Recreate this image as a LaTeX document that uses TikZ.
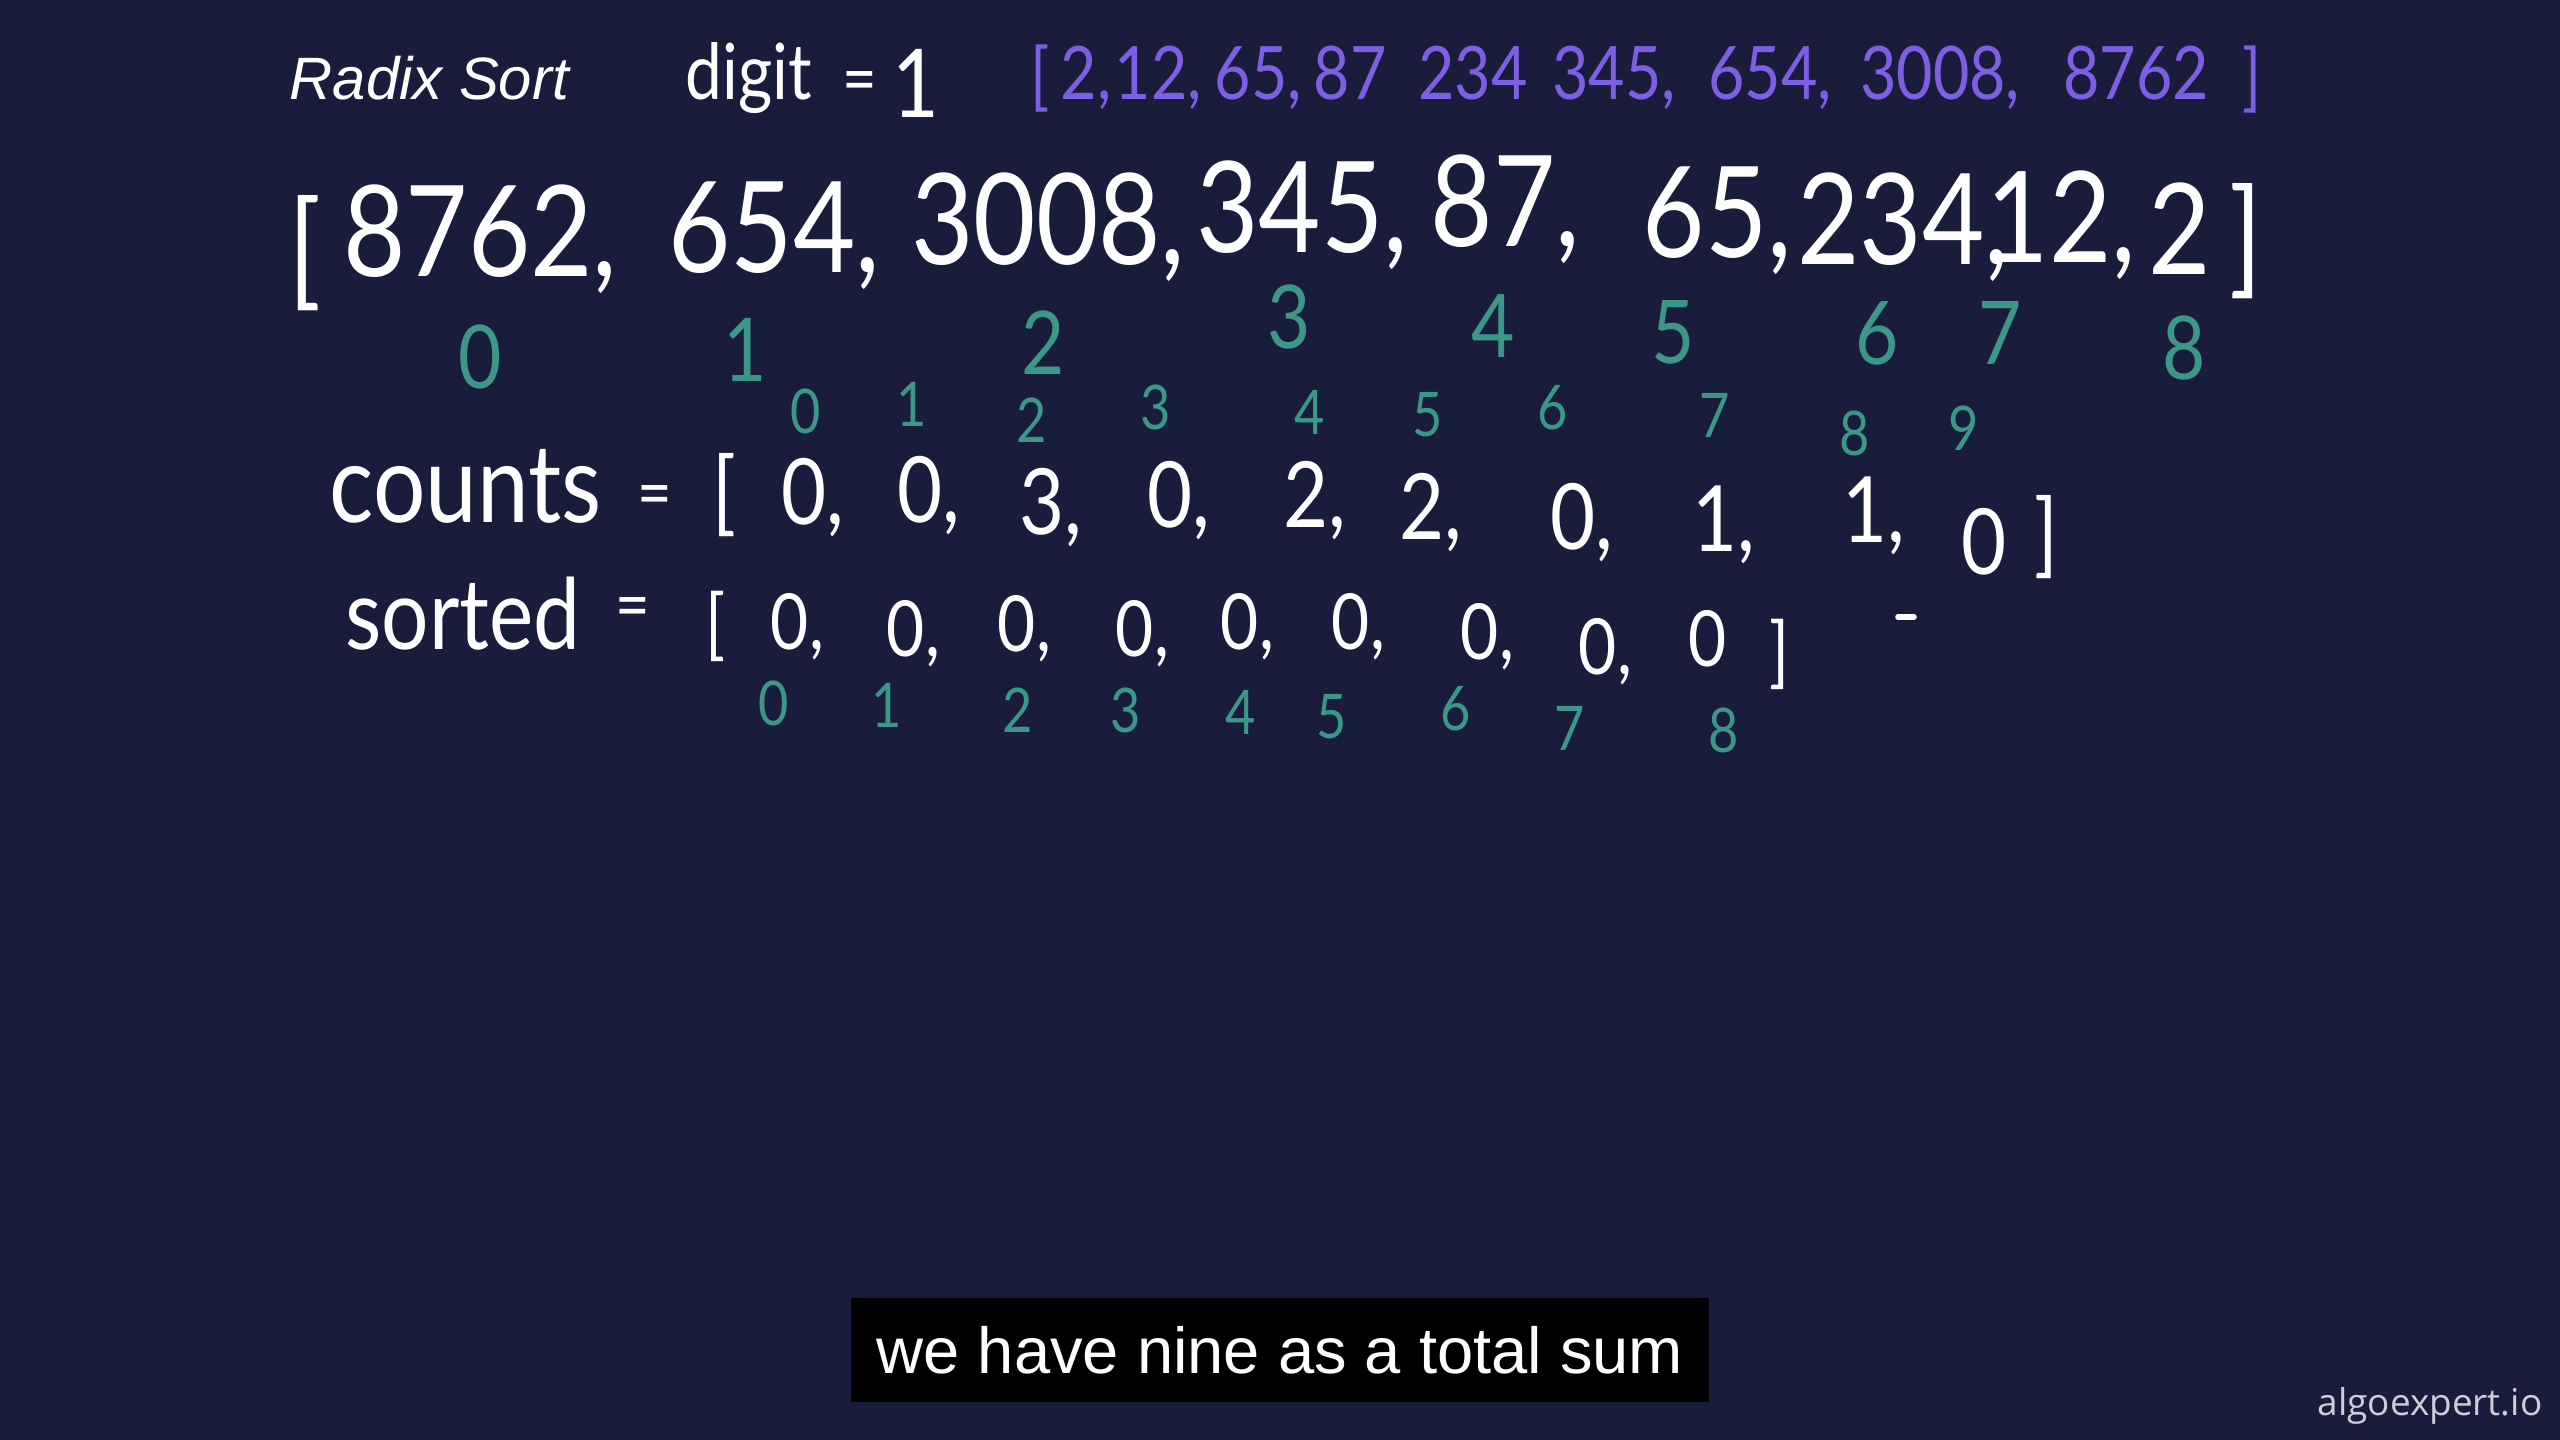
\documentclass[tikz,border=0pt]{standalone}
\usepackage{fontspec}
\setmainfont{Lato}[FakeStretch=0.85]
\newfontfamily\titlefont{Liberation Sans}
\newfontfamily\brandfont{Open Sans}

\definecolor{board}{RGB}{25,29,59}
\definecolor{chalkgreen}{RGB}{60,152,134}
\definecolor{chalkpurple}{RGB}{125,95,228}
\definecolor{brandgray}{RGB}{205,207,215}

\begin{document}
\begin{tikzpicture}[
    x=0.01cm, y=-0.01cm,
    chalk/.style = { text=white, inner sep=0pt },
    arr/.style = { chalk, anchor=base, font=\fontsize{36}{40}\selectfont },
    cnt/.style = { chalk, anchor=base, font=\fontsize{26}{30}\selectfont },
    srt/.style = { chalk, anchor=base, font=\fontsize{22}{26}\selectfont },
    word/.style = { chalk, anchor=base west, font=\fontsize{31}{34}\selectfont },
    eq/.style = { chalk, font=\fontsize{20}{24}\selectfont },
    idx/.style = { text=chalkgreen, inner sep=0pt, font=\fontsize{25}{28}\selectfont },
    smallidx/.style = { idx, font=\fontsize{17.5}{20}\selectfont },
    done/.style = { text=chalkpurple, inner sep=0pt, anchor=base, font=\fontsize{21}{24}\selectfont },
    ]

    % board
    \fill[board] (0,0) rectangle (2560,1440);

    % heading
    \node[anchor=base west, text=white, inner sep=0pt, font=\titlefont\itshape\fontsize{17}{20}\selectfont] (title) at (289,100) {Radix Sort};
    \node[chalk, anchor=base west, font=\fontsize{22}{26}\selectfont] (digit) at (685,100) {digit};
    \node[eq] (digiteq) at (860,88) {=};
    \node[chalk, anchor=base, font=\fontsize{27}{30}\selectfont] (digitval) at (916,118) {1};

    % result of this pass
    \node[done] (pl) at (1040,102) {[};
    \node[done] (p1) at (1079,100) {2\rlap{,}};
    \node[done] (p2) at (1151,100) {12\rlap{,}};
    \node[done] (p3) at (1251,100) {65\rlap{,}};
    \node[done] (p4) at (1350,100) {87};
    \node[done] (p5) at (1473,100) {234};
    \node[done] (p6) at (1607,100) {345\rlap{,}};
    \node[done] (p7) at (1763,100) {654\rlap{,}};
    \node[done] (p8) at (1933,100) {3008\rlap{,}};
    \node[done] (p9) at (2136,100) {8762};
    \node[done] (pr) at (2252,103) {]};

    % input array
    \node[arr] (al) at (305,293) {[};
    \node[arr] (a0) at (468,277) {8762\rlap{,}};
    \node[arr] (a1) at (762,273) {654\rlap{,}};
    \node[arr] (a2) at (1036,265) {3008\rlap{,}};
    \node[arr] (a3) at (1290,253) {345\rlap{,}};
    \node[arr] (a4) at (1493,247) {87\rlap{,}};
    \node[arr] (a5) at (1705,258) {65\rlap{,}};
    \node[arr] (a6) at (1891,265) {234\rlap{,}};
    \node[arr] (a7) at (2049,263) {12\rlap{,}};
    \node[arr] (a8) at (2180,275) {2};
    \node[arr] (ar) at (2246,281) {]};

    % array indices
    \node[idx] (ai0) at (480,357) {0};
    \node[idx] (ai1) at (745,350) {1};
    \node[idx] (ai2) at (1043,343) {2};
    \node[idx] (ai3) at (1289,317) {3};
    \node[idx] (ai4) at (1493,326) {4};
    \node[idx] (ai5) at (1673,332) {5};
    \node[idx] (ai6) at (1877,333) {6};
    \node[idx] (ai7) at (2000,333) {7};
    \node[idx] (ai8) at (2184,348) {8};

    % counts
    \node[word] (counts) at (329,523) {counts};
    \node[eq] (countseq) at (655,502) {=};
    \node[cnt] (cl) at (724,524) {[};
    \node[cnt] (c0) at (804,525) {0\rlap{,}};
    \node[cnt] (c1) at (920,523) {0\rlap{,}};
    \node[cnt] (c2) at (1042,535) {3\rlap{,}};
    \node[cnt] (c3) at (1170,528) {0\rlap{,}};
    \node[cnt] (c4) at (1306,528) {2\rlap{,}};
    \node[cnt] (c5) at (1422,540) {2\rlap{,}};
    \node[cnt] (c6) at (1573,550) {0\rlap{,}};
    \node[cnt] (c7) at (1715,552) {1\rlap{,}};
    \node[cnt] (c8) at (1865,543) {1\rlap{,}};
    \node[cnt] (c9) at (1984,575) {0};
    \node[cnt] (cr) at (2046,566) {]};

    % counts indices
    \node[smallidx] (ci0) at (806,411) {0};
    \node[smallidx] (ci1) at (912,404) {1};
    \node[smallidx] (ci2) at (1032,420) {2};
    \node[smallidx] (ci3) at (1156,407) {3};
    \node[smallidx] (ci4) at (1310,412) {4};
    \node[smallidx] (ci5) at (1428,415) {5};
    \node[smallidx] (ci6) at (1553,408) {6};
    \node[smallidx] (ci7) at (1715,415) {7};
    \node[smallidx] (ci8) at (1855,433) {8};
    \node[smallidx] (ci9) at (1964,428) {9};

    % sorted
    \node[word, font=\fontsize{28}{31}\selectfont] (sorted) at (345,650) {sorted};
    \node[eq] (sortedeq) at (633,614) {=};
    \node[srt] (sl) at (716,651) {[};
    \node[srt] (s0) at (790,650) {0\rlap{,}};
    \node[srt] (s1) at (906,657) {0\rlap{,}};
    \node[srt] (s2) at (1017,652) {0\rlap{,}};
    \node[srt] (s3) at (1135,657) {0\rlap{,}};
    \node[srt] (s4) at (1240,650) {0\rlap{,}};
    \node[srt] (s5) at (1351,650) {0\rlap{,}};
    \node[srt] (s6) at (1480,660) {0\rlap{,}};
    \node[srt] (s7) at (1598,675) {0\rlap{,}};
    \node[srt] (s8) at (1708,667) {0};
    \node[srt] (sr) at (1780,679) {]};
    \draw[white, line width=1.6pt, line cap=round] (1898,617) -- (1914,617);

    % sorted indices
    \node[smallidx] (si0) at (774,703) {0};
    \node[smallidx] (si1) at (887,705) {1};
    \node[smallidx] (si2) at (1018,710) {2};
    \node[smallidx] (si3) at (1126,710) {3};
    \node[smallidx] (si4) at (1241,712) {4};
    \node[smallidx] (si5) at (1332,717) {5};
    \node[smallidx] (si6) at (1456,709) {6};
    \node[smallidx] (si7) at (1570,728) {7};
    \node[smallidx] (si8) at (1724,730) {8};

    % subtitle and mark
    \node[fill=black, text=white, minimum width=8.58cm, minimum height=1.04cm, inner sep=0pt, font=\titlefont\fontsize{18.5}{22}\selectfont] (caption) at (1280,1350) {we have nine as a total sum};
    \node[anchor=base east, text=brandgray, inner sep=0pt, font=\brandfont\fontsize{10.5}{12}\selectfont] (brand) at (2543,1415) {algoexpert.io};

  \end{tikzpicture}
\end{document}
